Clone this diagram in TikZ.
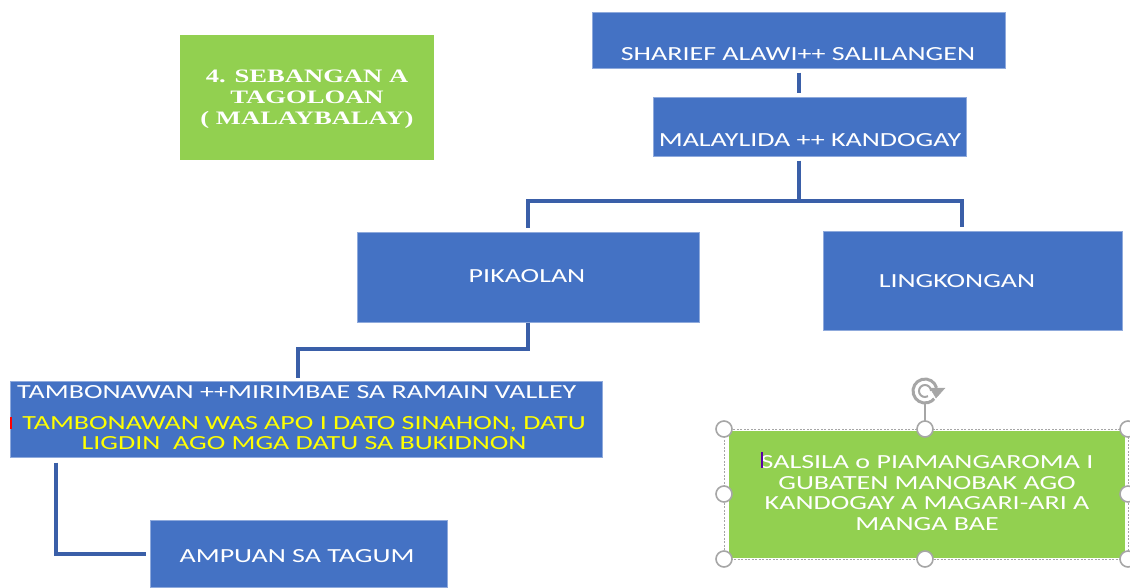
\documentclass[tikz,border=0pt]{standalone}
\usepackage{fontspec}
\setmainfont{Carlito}
\newfontfamily\widefont[FakeStretch=1.4]{Carlito}
\newfontfamily\headfont[FakeStretch=1.4]{Liberation Serif}
\usetikzlibrary{calc,arrows.meta}
\definecolor{bx}{HTML}{4472C4}
\definecolor{gr}{HTML}{92D050}
\definecolor{ln}{HTML}{3A5FA8}
\definecolor{hd}{HTML}{A6A6A6}
\definecolor{yl}{HTML}{FFFF00}
\tikzset{
  bbox/.style={fill=bx, draw=bx!60!white, line width=0.6pt, anchor=north west, inner sep=0pt},
  gbox/.style={fill=gr, anchor=north west, inner sep=0pt},
  wtext/.style={text=white, font=\widefont\fontsize{20}{20.5}\selectfont, inner sep=0pt},
  conn/.style={draw=ln, line width=4pt},
  handle/.style={circle, draw=hd, fill=white, line width=1.6pt, minimum size=16pt, inner sep=0pt}
}
\begin{document}
\begin{tikzpicture}[x=1pt,y=-1pt]
\useasboundingbox (0,0) rectangle (1130,587);
% boxes
\node[bbox, minimum width=413pt, minimum height=56pt] (sha) at (592,12) {};
\node[bbox, minimum width=313pt, minimum height=59pt] (mal) at (653,97) {};
\node[bbox, minimum width=342pt, minimum height=90pt] (pik) at (357,232) {};
\node[bbox, minimum width=299pt, minimum height=99pt] (lin) at (823,231) {};
\node[bbox, minimum width=592pt, minimum height=76pt] (tam) at (10,381) {};
\node[bbox, minimum width=297pt, minimum height=67pt] (amp) at (150,520) {};
\node[gbox, minimum width=254pt, minimum height=125pt] (head) at (180,35) {};
\node[gbox, minimum width=396pt, minimum height=127pt] (sal) at (729,431) {};
% texts
\node[wtext] (tsha) at (798,54) {SHARIEF ALAWI++ SALILANGEN};
\node[wtext] (tmal) at (810,140) {MALAYLIDA ++ KANDOGAY};
\node[wtext] (tpik) at (527,276) {PIKAOLAN};
\node[wtext] (tlin) at (957,281) {LINGKONGAN};
\node[wtext, anchor=west] (ttam) at (17,392) {TAMBONAWAN ++MIRIMBAE SA RAMAIN VALLEY};
\node[wtext, text=yl, align=center] (ttam2) at (304,433) {TAMBONAWAN WAS APO I DATO SINAHON, DATU\\LIGDIN\ \ AGO MGA DATU SA BUKIDNON};
\node[wtext] (tamp) at (297,556) {AMPUAN SA TAGUM};
\node[text=white, align=center, font=\headfont\bfseries\fontsize{19}{21}\selectfont, inner sep=0pt] (thead) at (307,99) {4. SEBANGAN A\\TAGOLOAN\\( MALAYBALAY)};
\node[wtext, align=center] (tsal) at (927,493) {SALSILA o PIAMANGAROMA I\\GUBATEN MANOBAK AGO\\KANDOGAY A MAGARI-ARI A\\MANGA BAE};
% caret marks
\draw[draw=violet!70!blue, line width=1.5pt] (762,452) -- (762,468);
\draw[draw=red, line width=1.2pt] (11,417) -- (11,429);
% connectors
\draw[conn] ($(sha.south)+(0,4)$) -- ($(sha.south |- mal.north)+(0,-4)$);
\coordinate (lintop) at ($(lin.north)+(-11,-4)$);
\draw[conn] ($(mal.south)+(-11,4)$) -- ++(0,40) -| ($(pik.north)+(0,-4)$);
\draw[conn] ($(mal.south)+(-11,44)$) -| (lintop);
\draw[conn] (pik.south) -- ++(0,26) -| ($(tam.north)+(-8,-3)$);
\draw[conn] ($(tam.south west)+(46,5)$) |- ($(amp.west)+(-4,0)$);
% selection frame
\draw[hd, line width=0.8pt, dash pattern=on 2pt off 1.5pt] (724,429) rectangle (1128,559);
\coordinate (rot) at (925,391);
\draw[hd, line width=1.6pt] (925,403) -- (925,429);
\foreach \p [count=\i] in {(724,429),(925,429),(1128,429),(724,494),(1128,494),(724,559),(925,559),(1128,559)}
  \node[handle] (h\i) at \p {};
\draw[hd, line width=3pt] (rot) ++(-15:12) arc (-15:-320:12);
\draw[hd, line width=2pt] (rot) ++(0:6) arc (0:-300:6);
\draw[hd, fill=hd] (930,388) -- (945,388) -- (936,398) -- cycle;
\end{tikzpicture}
\end{document}
